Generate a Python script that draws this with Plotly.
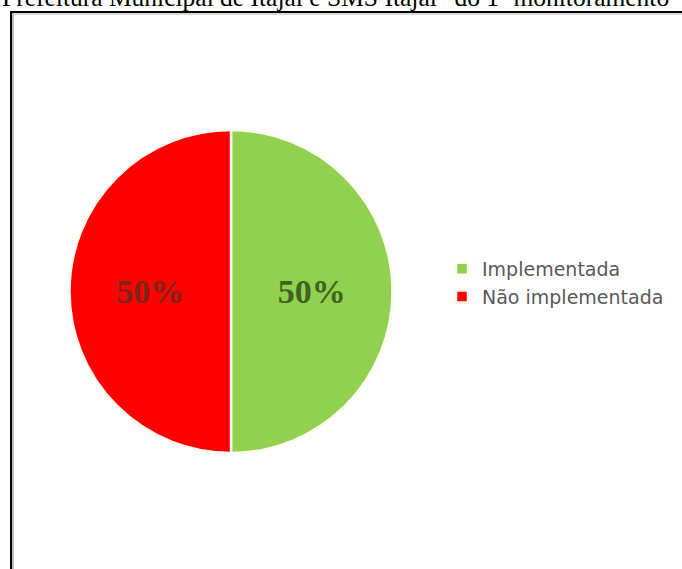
import plotly.graph_objects as go

W, H = 682, 569

labels = ["Implementada", "Não implementada"]
values = [50, 50]
colors = ["#92D050", "#FF0000"]
text_colors = ["#3d6420", "#7c2418"]
header_text = "Prefeitura Municipal de Itajaí e SMS Itajaí\u201d do 1º monitoramento"

def px_x(p):
    return p / W

def px_y(p):
    return 1 - p / H

cx, cy, r = 231, 291.5, 161.5

fig = go.Figure()
fig.add_trace(go.Pie(
    labels=labels,
    values=values,
    sort=False,
    direction="clockwise",
    rotation=0,
    marker=dict(colors=colors, line=dict(color="#fffaf0", width=2.5)),
    textinfo="percent",
    texttemplate="%{percent:.0%}",
    textposition="inside",
    insidetextorientation="horizontal",
    textfont=dict(family="Liberation Serif", size=34, color=text_colors, weight="bold"),
    domain=dict(x=[px_x(cx - r), px_x(cx + r)], y=[px_y(cy + r), px_y(cy - r)]),
    hoverinfo="label+percent",
))

fig.update_layout(
    width=W, height=H,
    margin=dict(l=0, r=0, t=0, b=0),
    paper_bgcolor="white",
    plot_bgcolor="white",
    showlegend=True,
    legend=dict(
        x=px_x(442), y=px_y(250), xanchor="left", yanchor="top",
        font=dict(family="DejaVu Sans", size=19, color="#595959"),
        bgcolor="rgba(0,0,0,0)",
        itemwidth=30,
    ),
    annotations=[dict(
        text=header_text, x=0, y=px_y(14), xref="paper", yref="paper",
        xanchor="left", yanchor="bottom", showarrow=False,
        font=dict(family="Liberation Serif", size=25.5, color="black"),
    )],
    shapes=[
        dict(type="line", xref="paper", yref="paper", x0=px_x(11), x1=px_x(11), y0=px_y(11), y1=px_y(H + 5),
             line=dict(color="black", width=2)),
        dict(type="line", xref="paper", yref="paper", x0=px_x(13), x1=px_x(13), y0=px_y(13), y1=px_y(H + 5),
             line=dict(color="#bbbbbb", width=2)),
        dict(type="line", xref="paper", yref="paper", x0=px_x(10), x1=px_x(W + 5), y0=px_y(12), y1=px_y(12),
             line=dict(color="black", width=2)),
        dict(type="line", xref="paper", yref="paper", x0=px_x(12), x1=px_x(W + 5), y0=px_y(14), y1=px_y(14),
             line=dict(color="#cccccc", width=1.5)),
    ],
)

fig.write_html("out.html", config={"displayModeBar": False},
               post_script="document.body.style.margin='0px';")
